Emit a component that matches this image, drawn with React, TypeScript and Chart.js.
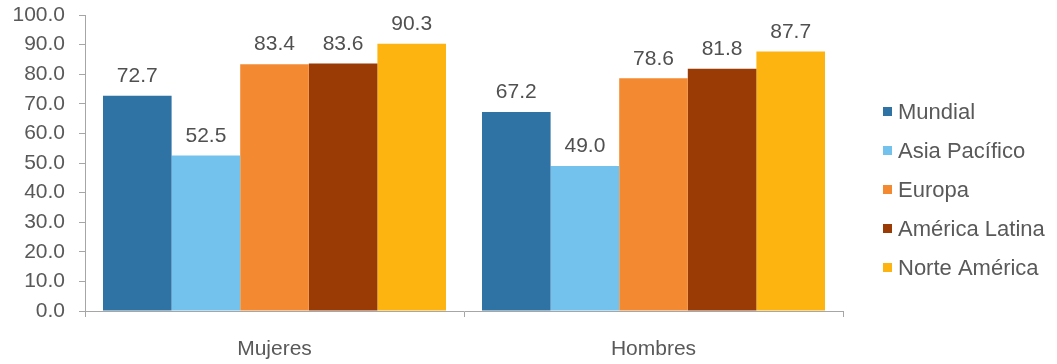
import React, { useEffect, useRef } from "react";
import { Chart, registerables } from "chart.js";

Chart.register(...registerables);

const categories = ["Mujeres", "Hombres"];
const seriesNames = ["Mundial", "Asia Pacífico", "Europa", "América Latina", "Norte América"];
const mundial = [72.7, 67.2];
const asiaPacifico = [52.5, 49.0];
const europa = [83.4, 78.6];
const americaLatina = [83.6, 81.8];
const norteAmerica = [90.3, 87.7];
const seriesColors = ["#2f72a4", "#73c2ee", "#f38a31", "#9a3a04", "#fdb410"];
const yTicks = [0, 10, 20, 30, 40, 50, 60, 70, 80, 90, 100];

const FONT = "'Liberation Sans', Arial, sans-serif";
const TEXT = "#595959";
const AXIS = "#a6a6a6";

const valueLabels = {
  id: "valueLabels",
  afterDatasetsDraw(chart: any) {
    const ctx = chart.ctx;
    ctx.save();
    ctx.font = `21px ${FONT}`;
    ctx.fillStyle = "#505050";
    ctx.textAlign = "center";
    ctx.textBaseline = "bottom";
    chart.data.datasets.forEach((ds: any, i: number) => {
      const meta = chart.getDatasetMeta(i);
      meta.data.forEach((bar: any, j: number) => {
        ctx.fillText(Number(ds.data[j]).toFixed(1), bar.x, bar.y - 9);
      });
    });
    ctx.restore();
  },
};

const sideLegend = {
  id: "sideLegend",
  afterDraw(chart: any) {
    const ctx = chart.ctx;
    ctx.save();
    ctx.font = `22px ${FONT}`;
    ctx.textAlign = "left";
    ctx.textBaseline = "middle";
    chart.data.datasets.forEach((ds: any, i: number) => {
      const cy = 112 + i * 39;
      ctx.fillStyle = ds.backgroundColor;
      ctx.fillRect(883, cy - 5, 9, 9);
      ctx.fillStyle = TEXT;
      ctx.fillText(ds.label, 898, cy + 1);
    });
    ctx.restore();
  },
};

export default function App() {
  const ref = useRef<HTMLCanvasElement | null>(null);

  useEffect(() => {
    if (!ref.current) return;
    const values = [mundial, asiaPacifico, europa, americaLatina, norteAmerica];
    const chart = new Chart(ref.current, {
      type: "bar",
      data: {
        labels: categories,
        datasets: values.map((d, i) => ({
          label: seriesNames[i],
          data: d,
          backgroundColor: seriesColors[i],
          borderWidth: 0,
          categoryPercentage: 0.905,
          barPercentage: 1.0,
        })),
      },
      options: {
        animation: false,
        responsive: true,
        maintainAspectRatio: false,
        layout: { padding: { top: 15, right: 214, left: 0, bottom: 0 } },
        plugins: {
          legend: { display: false },
          tooltip: { enabled: false },
        },
        scales: {
          x: {
            grid: {
              offset: true,
              drawOnChartArea: false,
              drawTicks: true,
              tickLength: 6,
              color: AXIS,
            },
            border: { display: true, color: AXIS, width: 1 },
            ticks: {
              color: TEXT,
              font: { family: FONT, size: 21 },
              padding: 20,
            },
            afterFit(scale: any) {
              scale.height = 53;
            },
          },
          y: {
            min: 0,
            max: 100,
            afterBuildTicks(scale: any) {
              scale.ticks = yTicks.map((v) => ({ value: v }));
            },
            grid: {
              drawOnChartArea: false,
              drawTicks: true,
              tickLength: 6,
              color: AXIS,
            },
            border: { display: true, color: AXIS, width: 1 },
            ticks: {
              color: TEXT,
              font: { family: FONT, size: 21 },
              padding: 14,
              callback: (v: any) => Number(v).toFixed(1),
            },
            afterFit(scale: any) {
              scale.width = 85;
              scale.paddingTop = 0;
              scale.paddingBottom = 0;
            },
          },
        },
      },
      plugins: [valueLabels, sideLegend],
    });
    return () => chart.destroy();
  }, []);

  return (
    <div style={{ position: "absolute", left: 0, top: 0, width: 1057, height: 364, background: "#fff" }}>
      <canvas ref={ref} />
    </div>
  );
}
